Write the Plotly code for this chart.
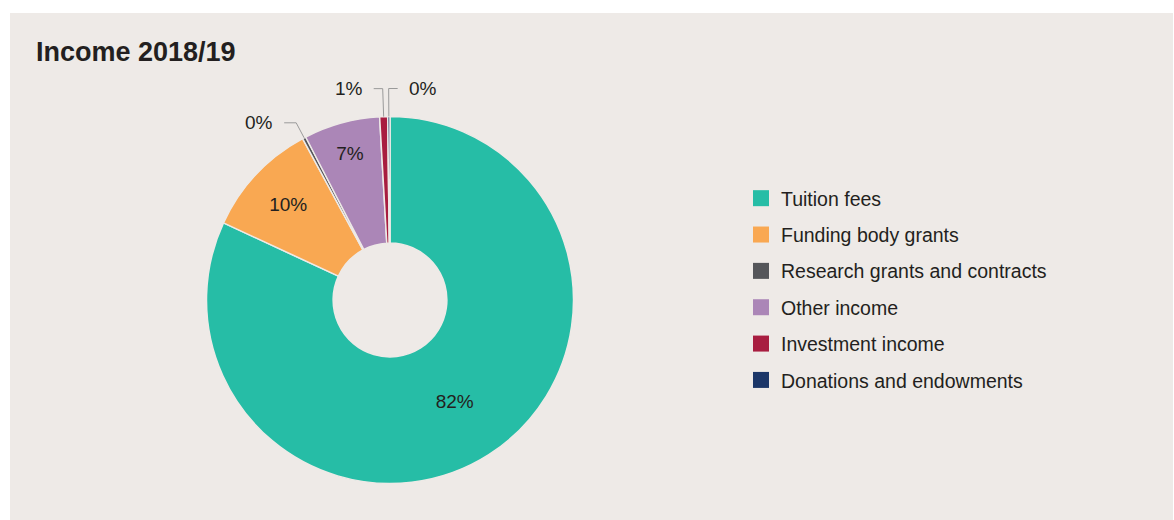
import math
import plotly.graph_objects as go

# Income breakdown, 2018/19 (share of total income, %)
categories = [
    "Tuition fees",
    "Funding body grants",
    "Research grants and contracts",
    "Other income",
    "Investment income",
    "Donations and endowments",
]
shares = [81.9, 10.2, 0.3, 6.7, 0.7, 0.2]
colors = ["#26bda6", "#f9a852", "#55565a", "#ab86b7", "#a81d40", "#1b3668"]

W, H = 1174, 520
BG = "#eeeae7"
INK = "#231f20"
FONT = "Liberation Sans, Arial, Helvetica, sans-serif"

# donut geometry (pixels)
CX, CY, R = 390.0, 300.0, 183.5
HOLE = 0.31


def px(x):
    return x / W


def py(y):
    return 1 - y / H


total = sum(shares)
pct_text = [f"{round(v / total * 100)}%" for v in shares]

# slices under 2% get an outside label with a leader line instead
small = [v / total < 0.02 for v in shares]
inside_text = ["" if s else t for s, t in zip(small, pct_text)]

fig = go.Figure()

fig.add_trace(go.Pie(
    labels=categories,
    values=shares,
    sort=False,
    direction="clockwise",
    rotation=0,
    hole=HOLE,
    marker=dict(colors=colors, line=dict(color=BG, width=1.5)),
    texttemplate=inside_text,
    textposition="inside",
    insidetextorientation="horizontal",
    textfont=dict(family=FONT, size=19, color=INK),
    showlegend=False,
    hoverinfo="label+percent",
    domain=dict(x=[px(CX - R), px(CX + R)], y=[py(CY + R), py(CY - R)]),
))

# legend entries, one group each so the rows can be spaced apart
for name, col in zip(categories, colors):
    fig.add_trace(go.Scatter(
        x=[None], y=[None], mode="markers", name=name, legendgroup=name,
        marker=dict(symbol="square", size=16, color=col),
        hoverinfo="skip",
    ))

# leader-line style per small slice: radial extension, side, horizontal run
leader_style = {2: (17, -1, 12), 4: (28, -1, 9), 5: (28, 1, 9)}

shapes = [dict(type="rect", xref="paper", yref="paper",
               x0=px(10), x1=px(1173), y0=0, y1=py(13),
               fillcolor=BG, line=dict(width=0), layer="below")]
annotations = []

cum = 0.0
for i, v in enumerate(shares):
    mid = (cum + v / 2) / total * 2 * math.pi
    cum += v
    if not small[i]:
        continue
    ext, side, run = leader_style[i]
    ax, ay = CX + R * math.sin(mid), CY - R * math.cos(mid)
    ex, ey = CX + (R + ext) * math.sin(mid), CY - (R + ext) * math.cos(mid)
    hx = ex + side * run
    shapes.append(dict(
        type="path", xref="paper", yref="paper",
        path=f"M {px(ax)},{py(ay)} L {px(ex)},{py(ey)} L {px(hx)},{py(ey)}",
        line=dict(color="#9a9a9a", width=1),
    ))
    annotations.append(dict(
        text=pct_text[i], xref="paper", yref="paper",
        x=px(hx + side * 9), y=py(ey),
        xanchor="left" if side > 0 else "right", yanchor="middle",
        showarrow=False, font=dict(family=FONT, size=19, color=INK),
    ))

fig.update_layout(
    width=W, height=H,
    margin=dict(l=0, r=0, t=0, b=0),
    paper_bgcolor="white",
    plot_bgcolor="rgba(0,0,0,0)",
    font=dict(family=FONT, color=INK),
    title=dict(text="<b>Income 2018/19</b>", x=px(36), xanchor="left",
               y=py(52), yanchor="middle", xref="paper", yref="paper",
               font=dict(family=FONT, size=27, color=INK)),
    xaxis=dict(visible=False),
    yaxis=dict(visible=False),
    showlegend=True,
    legend=dict(x=px(741), xanchor="left", y=py(179), yanchor="top",
                font=dict(family=FONT, size=19.5, color=INK),
                bgcolor="rgba(0,0,0,0)", tracegroupgap=8,
                traceorder="grouped", itemsizing="trace"),
    shapes=shapes,
    annotations=annotations,
)

fig.write_html("out.html")
